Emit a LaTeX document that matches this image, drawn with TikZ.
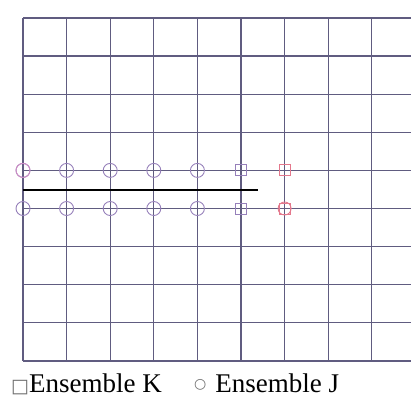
\documentclass[tikz,border=0pt]{standalone}
\usepackage{fontspec}
\setmainfont{Liberation Serif}
\newfontfamily\symfont{DejaVu Sans}
\definecolor{grillec}{RGB}{96,92,128}
\definecolor{violetc}{RGB}{150,128,186}
\definecolor{rosec}{RGB}{206,140,196}
\definecolor{rougec}{RGB}{228,120,140}
\definecolor{legc}{RGB}{110,110,110}

\begin{document}
\begin{tikzpicture}[
    x=1pt, y=-1pt,
    grille/.style={draw=grillec, line width=1.3pt},
    jpt/.style={circle, draw=violetc, line width=0.9pt,
                minimum size=14pt, inner sep=0pt},
    kpt/.style={rectangle, draw=violetc, line width=0.9pt,
                minimum size=11pt, inner sep=0pt},
    sep/.style={draw=black, line width=1.4pt},
    legende/.style={font=\fontsize{27}{30}\selectfont, inner sep=0pt,
                    anchor=base west, text=black}
]
\useasboundingbox (0,0) rectangle (411,401);

% Grille : pas x 43.6, pas y 38.1
\foreach \i in {0,...,8}
  \draw[grille] (23+43.6*\i, 18) -- (23+43.6*\i, 360.9);
\foreach \j in {0,...,9}
  \draw[grille] (23, 18+38.1*\j) -- (411, 18+38.1*\j);

% Ensemble J (cercles)
\foreach \i in {0,...,4} {
  \node[jpt] (jh\i) at (23+43.6*\i, 170.4) {};
  \node[jpt] (jb\i) at (23+43.6*\i, 208.5) {};
}
\node[jpt, draw=rosec] at (jh0) {};

% Ensemble K (carres)
\node[kpt] (kh5) at (241, 170.4) {};
\node[kpt] (kb5) at (241, 208.5) {};
\node[kpt, draw=rougec] (kh6) at (284.6, 170.4) {};
\node[kpt, draw=rougec] (kb6) at (284.6, 208.5) {};
\node[jpt, draw=rougec, minimum size=13pt] (jb6) at (kb6) {};

% Separation
\coordinate (sepg) at (23, 190);
\coordinate (sepd) at (258, 190);
\draw[sep] (sepg) -- (sepd);

% Legende
\node[legende] (legk) at (11, 392)
  {{\symfont\color{legc}\fontsize{19}{19}\selectfont □}Ensemble K};
\node[legende] (legj) at (194, 392)
  {\raisebox{4pt}{\symfont\color{legc}\fontsize{14}{14}\selectfont ○}\hspace{9pt}Ensemble J};
\end{tikzpicture}
\end{document}
